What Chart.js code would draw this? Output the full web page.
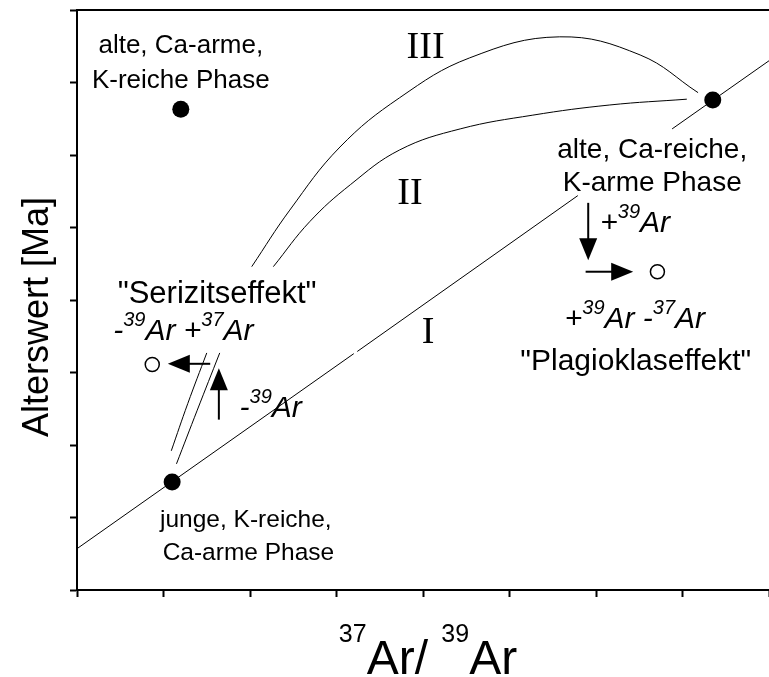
<!DOCTYPE html>
<html>
<head>
<meta charset="utf-8">
<script src="https://cdn.jsdelivr.net/npm/chart.js@4.4.0/dist/chart.umd.min.js"></script>
<style>
  html, body { margin: 0; padding: 0; background: #fff; }
  #wrap { width: 769px; height: 677px; }
</style>
</head>
<body>
<div id="wrap"><canvas id="arChart" width="769" height="677"></canvas></div>
<script>
// Achsen ohne Zahlenwerte, nur Teilstriche 0..8
const xTicks = [0, 1, 2, 3, 4, 5, 6, 7, 8];
const yTicks = [0, 1, 2, 3, 4, 5, 6, 7, 8];

// Gerade I (unterbrochen bei den Beschriftungen)
const lineI_1 = [[0.00, 0.57], [3.20, 3.26]];
const lineI_2 = [[3.24, 3.29], [5.79, 5.44]];
const lineI_3 = [[6.88, 6.36], [8.00, 7.30]];

// Kurve II
const curveII_low = [[1.15, 1.74], [1.39, 2.48], [1.65, 3.27]];
const curveII_high = [[2.27, 4.46], [2.69, 5.08], [3.16, 5.59], [3.73, 6.07], [4.43, 6.36], [5.27, 6.55], [6.16, 6.69], [7.05, 6.77]];

// Kurve III
const curveIII_low = [[1.09, 1.92], [1.28, 2.57], [1.50, 3.27]];
const curveIII_high = [[2.02, 4.46], [2.46, 5.24], [3.04, 6.11], [3.73, 6.79], [4.54, 7.34], [5.58, 7.63], [6.51, 7.38], [7.18, 6.86]];

// Phasen (gefuellt) und Effekte (offen)
const phasen = [[1.10, 1.49], [1.20, 6.63], [7.35, 6.76]];
const effekte = [[0.87, 3.11], [6.71, 4.39]];

// Pfeile: [von, nach]
const pfeile = [
    [[5.91, 5.34], [5.91, 4.55]],
    [[5.88, 4.39], [6.43, 4.39]],
    [[1.54, 3.12], [1.05, 3.12]],
    [[1.64, 2.35], [1.64, 3.06]],
];

// Beschriftungen, "^" leitet eine hochgestellte Massenzahl ein
const labels = [
    { text: "alte, Ca-arme,", x: 1.20, y: 7.41, align: "center", size: 26 },
    { text: "K-reiche Phase", x: 1.20, y: 6.92, align: "center", size: 26 },
    { text: "III", x: 4.03, y: 7.34, align: "center", size: 38, serif: true },
    { text: "II", x: 3.85, y: 5.32, align: "center", size: 38, serif: true },
    { text: "I", x: 4.06, y: 3.41, align: "center", size: 38, serif: true },
    { text: "alte, Ca-reiche,", x: 6.65, y: 5.96, align: "center", size: 28 },
    { text: "K-arme Phase", x: 6.65, y: 5.50, align: "center", size: 28 },
    { text: "+^39Ar", x: 6.05, y: 4.94, align: "left", size: 30, italic: true },
    { text: "+^39Ar -^37Ar", x: 6.45, y: 3.61, align: "center", size: 30, italic: true },
    { text: "\"Plagioklaseffekt\"", x: 6.46, y: 3.03, align: "center", size: 30 },
    { text: "\"Serizitseffekt\"", x: 1.62, y: 3.96, align: "center", size: 31 },
    { text: "-^39Ar +^37Ar", x: 1.23, y: 3.45, align: "center", size: 30, italic: true },
    { text: "-^39Ar", x: 1.88, y: 2.39, align: "left", size: 30, italic: true },
    { text: "junge, K-reiche,", x: 0.96, y: 0.87, align: "left", size: 24.5 },
    { text: "Ca-arme Phase", x: 0.99, y: 0.41, align: "left", size: 24.5 },
];

const toXY = (arr) => arr.map((p) => ({ x: p[0], y: p[1] }));

function lineSet(arr, curved) {
    return {
        data: toXY(arr),
        showLine: true,
        borderColor: "#000",
        borderWidth: 1,
        pointRadius: 0,
        fill: false,
        tension: curved ? 0.4 : 0,
    };
}

const SANS = '"Liberation Sans", Arial, sans-serif';
const SERIF = '"Liberation Serif", "Times New Roman", serif';

// Text mit hochgestellten Zahlen zeichnen
function drawRuns(ctx, text, x, y, align, size, opts) {
    opts = opts || {};
    const supSize = opts.supSize || Math.round(size * 0.66);
    const raise = opts.raise || size * 0.45;
    const style = opts.italic ? "italic " : "";
    const family = opts.serif ? SERIF : SANS;
    const parts = text.split(/\^(\d+)/).map((t, i) => ({ t: t, sup: i % 2 === 1 })).filter((r) => r.t);
    let w = 0;
    parts.forEach((r) => {
        ctx.font = style + (r.sup ? supSize : size) + "px " + family;
        r.w = ctx.measureText(r.t).width;
        w += r.w;
    });
    let cx = align === "center" ? x - w / 2 : x;
    ctx.textAlign = "left";
    ctx.textBaseline = "alphabetic";
    parts.forEach((r) => {
        ctx.font = style + (r.sup ? supSize : size) + "px " + family;
        ctx.fillText(r.t, cx, r.sup ? y - raise : y);
        cx += r.w;
    });
}

const annotations = {
    id: "annotations",
    afterDatasetsDraw(chart) {
        const { ctx, scales } = chart;
        const px = (v) => scales.x.getPixelForValue(v);
        const py = (v) => scales.y.getPixelForValue(v);
        ctx.save();
        ctx.fillStyle = "#000";
        ctx.strokeStyle = "#000";

        // Pfeile
        pfeile.forEach(([from, to]) => {
            const x0 = px(from[0]), y0 = py(from[1]);
            const x1 = px(to[0]), y1 = py(to[1]);
            const ang = Math.atan2(y1 - y0, x1 - x0);
            const hl = 22, hw = 9;
            ctx.lineWidth = 2;
            ctx.beginPath();
            ctx.moveTo(x0, y0);
            ctx.lineTo(x1 - Math.cos(ang) * hl * 0.8, y1 - Math.sin(ang) * hl * 0.8);
            ctx.stroke();
            ctx.beginPath();
            ctx.moveTo(x1, y1);
            ctx.lineTo(x1 - Math.cos(ang) * hl - Math.sin(ang) * hw, y1 - Math.sin(ang) * hl + Math.cos(ang) * hw);
            ctx.lineTo(x1 - Math.cos(ang) * hl + Math.sin(ang) * hw, y1 - Math.sin(ang) * hl - Math.cos(ang) * hw);
            ctx.closePath();
            ctx.fill();
        });

        // Beschriftungen
        labels.forEach((l) => {
            drawRuns(ctx, l.text, px(l.x), py(l.y), l.align, l.size, { italic: l.italic, serif: l.serif, supSize: 20, raise: 14 });
        });

        // Achsentitel
        drawRuns(ctx, "^37Ar/ ^39Ar", 428, 674, "center", 48, { supSize: 25, raise: 32 });
        ctx.translate(48, 317);
        ctx.rotate(-Math.PI / 2);
        ctx.font = "36px " + SANS;
        ctx.textAlign = "center";
        ctx.textBaseline = "alphabetic";
        ctx.fillText("Alterswert [Ma]", 0, 0);
        ctx.restore();
    },
};

const axisGrid = {
    drawOnChartArea: false,
    drawTicks: true,
    tickLength: 7,
    tickWidth: 2,
    tickColor: "#000",
};

new Chart(document.getElementById("arChart"), {
    type: "scatter",
    data: {
        datasets: [
            lineSet(lineI_1, false),
            lineSet(lineI_2, false),
            lineSet(lineI_3, false),
            lineSet(curveII_low, true),
            lineSet(curveII_high, true),
            lineSet(curveIII_low, true),
            lineSet(curveIII_high, true),
            {
                data: toXY(phasen),
                pointRadius: 8.5,
                pointBackgroundColor: "#000",
                pointBorderColor: "#000",
                pointBorderWidth: 0,
            },
            {
                data: toXY(effekte),
                pointRadius: 7,
                pointBackgroundColor: "#fff",
                pointBorderColor: "#000",
                pointBorderWidth: 1.5,
            },
        ],
    },
    options: {
        responsive: false,
        animation: false,
        events: [],
        layout: { autoPadding: false, padding: { top: 10, right: 0, bottom: 0, left: 0 } },
        plugins: { legend: { display: false }, tooltip: { enabled: false } },
        scales: {
            x: {
                type: "linear",
                min: 0,
                max: 8,
                afterBuildTicks: (s) => { s.ticks = xTicks.map((v) => ({ value: v })); },
                afterFit: (s) => { s.height = 87; },
                ticks: { display: false },
                grid: axisGrid,
                border: { color: "#000", width: 2 },
            },
            x2: {
                type: "linear",
                position: "top",
                min: 0,
                max: 8,
                afterFit: (s) => { s.height = 0; },
                ticks: { display: false },
                grid: { display: false, drawTicks: false },
                border: { display: true, color: "#000", width: 2 },
            },
            y: {
                type: "linear",
                min: 0,
                max: 8,
                afterBuildTicks: (s) => { s.ticks = yTicks.map((v) => ({ value: v })); },
                afterFit: (s) => { s.width = 77; },
                ticks: { display: false },
                grid: axisGrid,
                border: { color: "#000", width: 2 },
            },
        },
    },
    plugins: [annotations],
});
</script>
</body>
</html>
